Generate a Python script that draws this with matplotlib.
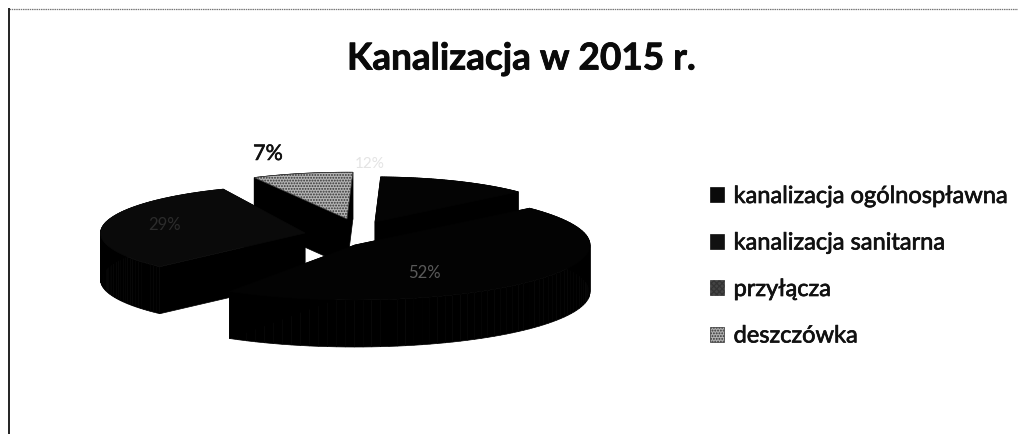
import numpy as np
import matplotlib
matplotlib.use("Agg")
import matplotlib.pyplot as plt
from matplotlib.patches import Polygon, Patch
import matplotlib.patheffects as pe

categories = ["kanalizacja ogólnospławna", "kanalizacja sanitarna", "przyłącza", "deszczówka"]
pie_values = [52, 29, 7, 12]
pie_labels = ["52%", "29%", "7%", "12%"]

slice_colors = ["#030303", "#0a0a0a", "#b4b4b4", "#040404"]
legend_colors = ["#0a0a0a", "#111111", "#444444", "#b0b0b0"]
legend_hatches = [None, None, "xxxxxx", "......"]
offsets = [(0, -2), (-50, -14), (-8, -28), (20, -25)]
radii = [1.0, 0.87, 0.85, 0.82]
warp_amp = [23, 10, 23, 23]
CX, CY, RX, RY, DEPTH = 355, 248, 235, 55, 47
START = 48


def warp(phi, amp):
    u = np.radians(phi - START)
    return phi - amp * np.sin(u / 2) ** 2


def point(phi, r, off):
    a = np.radians(phi)
    return CX + off[0] + r * RX * np.sin(a), CY + off[1] - r * RY * np.cos(a)


def draw_slice(ax, a0, a1, r, off, color, z, amp, hatch=None):
    phis = warp(np.linspace(a0, a1, 80), amp)
    x, y = point(phis, r, off)
    tx = np.r_[CX + off[0], x]
    ty = np.r_[CY + off[1], y]
    n = len(tx)
    for i in range(n):
        j = (i + 1) % n
        ax.add_patch(Polygon([(tx[i], ty[i]), (tx[j], ty[j]),
                              (tx[j], ty[j] + DEPTH), (tx[i], ty[i] + DEPTH)],
                             closed=True, fc="#000000", ec="#000000", lw=0.5, zorder=z))
    ax.add_patch(Polygon(np.c_[tx, ty], closed=True, fc=color, ec="#333333" if hatch else color,
                         lw=0.5, zorder=z + 0.5, hatch=hatch))


plt.rcParams["font.family"] = ["Lato", "DejaVu Sans"]
plt.rcParams["hatch.linewidth"] = 0.9
plt.rcParams["hatch.color"] = "#222222"
fig = plt.figure(figsize=(10.18, 4.35), dpi=100, facecolor="white")
ax = fig.add_axes([0, 0, 1, 1])
ax.set_xlim(0, 1018)
ax.set_ylim(435, 0)
ax.axis("off")

edges = np.r_[0, np.cumsum(pie_values)] * 3.6 + START
order = {2: 1, 3: 2, 1: 3, 0: 4}
for i in range(4):
    draw_slice(ax, edges[i], edges[i + 1], radii[i], offsets[i], slice_colors[i],
               order[i], warp_amp[i], hatch="......" if i == 2 else None)

ink = [pe.withStroke(linewidth=0.5, foreground="#111111")]
t7 = ax.text(268, 155, pie_labels[2], ha="center", va="center", fontsize=15.5, color="#111111", zorder=9)
t7.set_path_effects([pe.withStroke(linewidth=0.4, foreground="#111111")])
ax.text(424, 273, pie_labels[0], ha="center", va="center", fontsize=12, color="#5a5a5a", zorder=9)
ax.text(165, 225, pie_labels[1], ha="center", va="center", fontsize=12, color="#2c2c2c", zorder=9)
ax.text(370, 164, pie_labels[3], ha="center", va="center", fontsize=11, color="#e4e4e4", zorder=9)

title = ax.text(521, 60, "Kanalizacja w 2015 r.", ha="center", va="center", fontsize=26.6,
                fontweight="bold", color="#0a0a0a")
title.set_path_effects([pe.withStroke(linewidth=0.6, foreground="#0a0a0a")])

handles = [Patch(fc=c, ec=c if h is None else "#333333", hatch=h, lw=0.5)
           for c, h in zip(legend_colors, legend_hatches)]
leg = ax.legend(handles, categories, loc="upper left", bbox_to_anchor=(709.5 / 1018, 1 - 187 / 435),
                frameon=False, fontsize=17, labelspacing=1.08, handlelength=0.62, handleheight=0.62,
                handletextpad=0.40, borderpad=0, borderaxespad=0, labelcolor="#111111")
for t in leg.get_texts():
    t.set_path_effects(ink)

ax.plot([9, 1018], [10, 10], color="#777777", lw=0.9, ls=(0, (1.2, 0.6)))
ax.plot([9, 9], [10, 435], color="#222222", lw=1.4)

fig.savefig("out.png", dpi=100, facecolor="white")
